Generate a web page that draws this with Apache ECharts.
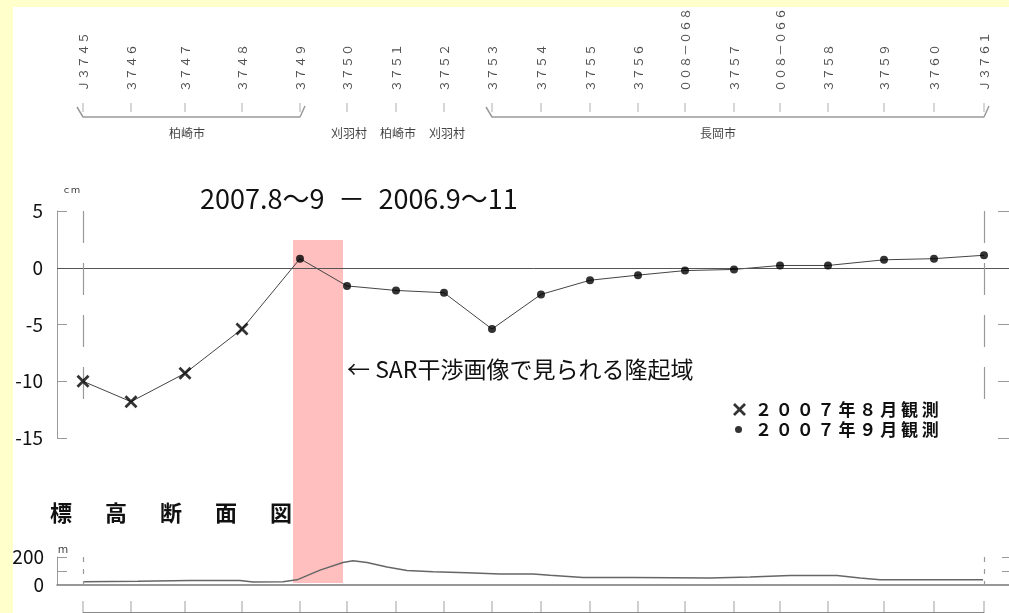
<!DOCTYPE html>
<html><head><meta charset="utf-8">
<script src="https://cdn.jsdelivr.net/npm/echarts@6/dist/echarts.min.js"></script>
<style>html,body{margin:0;padding:0;background:#ffffcc}#c{width:1009px;height:613px}</style>
</head><body><div id="c"></div>
<script>
// ---- data ----
const stations = ['Ｊ３７４５','３７４６','３７４７','３７４８','３７４９','３７５０','３７５１','３７５２','３７５３','３７５４','３７５５','３７５６','００８－０６８','３７５７','００８－０６６','３７５８','３７５９','３７６０','Ｊ３７６１'];
const distance = [0,48,102,159,217,264,313,361,409,458,507,555,602,651,697,745,801,851,901];
const displacement = [-10.0,-11.8,-9.3,-5.4,0.8,-1.6,-2.0,-2.2,-5.4,-2.35,-1.1,-0.65,-0.25,-0.15,0.2,0.2,0.7,0.8,1.1];
const augCount = 4; // first stations surveyed in Aug 2007, the rest in Sep 2007
const seriesNames = ['２００７年８月観測','２００７年９月観測'];
const elevDistance = [0,55,107,157,170,200,214,237,260,270,284,304,324,350,384,417,450,467,500,550,627,667,707,754,777,797,900];
const elevation = [24,26,32,32,22,24,37,106,161,173,161,128,104,94,87,79,79,69,54,54,50,57,67,67,50,37,37];
const regionNames = ['柏崎市','刈羽村','柏崎市','刈羽村','長岡市'];
const regionDistance = [104,266,315,364,635];
const regionSpans = [[0,4],[8,18]];
const upliftZone = [210,260];
const titleText = '2007.8～9\u2002－\u20022006.9～11';
const noteText = '← SAR干渉画像で見られる隆起域';
const profileTitle = '標\u3000\u2002高\u3000\u2002断\u3000\u2002面\u3000\u2002図';

// ---- chart ----
const FONT = "'Noto Sans CJK JP', 'Noto Sans', sans-serif";
const X0 = -26, X1 = 929;
const cross = 'path://M0,1.5L1.5,0L5,3.5L8.5,0L10,1.5L6.5,5L10,8.5L8.5,10L5,6.5L1.5,10L0,8.5L3.5,5Z';
const gridBase = {left:57, right:-3, outerBoundsMode:'none', containLabel:false};
function xa(g, extra){ return Object.assign({type:'value', gridIndex:g, min:X0, max:X1, show:false, splitLine:{show:false}}, extra||{}); }
function ya(g, extra){ return Object.assign({type:'value', gridIndex:g, splitLine:{show:false}}, extra||{}); }
const dashed = {color:'#999', width:1.2, type:[32,20]};
const dashedShort = {color:'#999', width:1.2, type:[5,7]};
const last = distance[distance.length-1];

const bracketSeries = regionSpans.map(([a,b]) => ({
  type:'line', xAxisIndex:2, yAxisIndex:4, symbol:'none', silent:true, z:3,
  lineStyle:{color:'#999', width:1.5},
  data:[[distance[a]-6,33],[distance[a],23],[distance[b],23],[distance[b]+5,34]]
}));

const option = {
  backgroundColor:'#ffffcc',
  animation:false,
  textStyle:{fontFamily:FONT},
  graphic:[{type:'rect', left:13, top:7, z:-10, shape:{width:1000, height:610}, style:{fill:'#ffffff'}}],
  title:[
    {text:titleText, left:200, top:185, padding:0, textStyle:{fontSize:27, fontWeight:'normal', color:'#111', fontFamily:FONT}},
    {text:noteText, left:347, top:358, padding:0, textStyle:{fontSize:23, fontWeight:'normal', color:'#111', fontFamily:FONT}},
    {text:profileTitle, left:50, top:502, padding:0, textStyle:{fontSize:22, fontWeight:'bold', color:'#111', fontFamily:FONT}}
  ],
  legend:[
    {data:[seriesNames[0]], left:733, top:401, padding:0, itemWidth:13, itemHeight:13, selectedMode:false,
     formatter:n=>n.split('').join(' '),
     textStyle:{fontSize:17, lineHeight:17, fontWeight:'bold', color:'#111', padding:[0,0,0,4], fontFamily:FONT}},
    {data:[seriesNames[1]], left:735, top:421, padding:0, itemWidth:7, itemHeight:7, selectedMode:false,
     formatter:n=>n.split('').join(' '),
     textStyle:{fontSize:17, lineHeight:17, fontWeight:'bold', color:'#111', padding:[0,0,0,8], fontFamily:FONT}}
  ],
  grid:[
    Object.assign({top:211, height:227}, gridBase),
    Object.assign({top:557, height:28}, gridBase),
    Object.assign({top:100, height:40}, gridBase),
    Object.assign({top:601, height:12}, gridBase),
    Object.assign({top:240, height:343}, gridBase)
  ],
  xAxis:[
    xa(0),
    xa(1, {show:true, axisLine:{show:true, onZero:false, lineStyle:{color:'#777', width:1.5}}, axisTick:{show:false}, axisLabel:{show:false}}),
    xa(2), xa(3), xa(4)
  ],
  yAxis:[
    ya(0, {min:-15, max:5, interval:5,
      axisLine:{show:true, onZero:false, lineStyle:{color:'#999'}},
      axisTick:{show:true, inside:true, length:10, lineStyle:{color:'#999'}},
      axisLabel:{margin:14, fontSize:19, color:'#111', fontFamily:FONT},
      name:'ｃｍ', nameLocation:'end', nameGap:17,
      nameTextStyle:{fontSize:9, align:'left', padding:[0,0,0,5], color:'#333', fontFamily:FONT}}),
    ya(0, {position:'right', min:-15, max:5, interval:5,
      axisLine:{show:false, onZero:false}, axisTick:{show:true, inside:true, length:14, lineStyle:{color:'#999'}}, axisLabel:{show:false}}),
    ya(1, {min:0, max:200, interval:100,
      axisLine:{show:true, onZero:false, lineStyle:{color:'#999'}},
      axisTick:{show:true, inside:true, length:10, lineStyle:{color:'#999'}},
      axisLabel:{margin:13, fontSize:19, color:'#111', fontFamily:FONT, formatter:v=> v===100 ? '' : String(v)},
      name:'ｍ', nameLocation:'end', nameGap:3,
      nameTextStyle:{fontSize:10, align:'left', padding:[0,0,0,1], color:'#333', fontFamily:FONT}}),
    ya(1, {position:'right', min:0, max:200, interval:100,
      axisLine:{show:false, onZero:false}, axisTick:{show:true, inside:true, length:10, lineStyle:{color:'#999'}}, axisLabel:{show:false}}),
    ya(2, {min:0, max:40, show:false}),
    ya(3, {min:0, max:12, show:false}),
    ya(4, {min:0, max:1, show:false})
  ],
  series:[
    // uplift zone band
    {type:'line', xAxisIndex:4, yAxisIndex:6, symbol:'none', silent:true, z:0,
     lineStyle:{opacity:0}, data:[[upliftZone[0],0],[upliftZone[1],1]],
     markArea:{silent:true, itemStyle:{color:'#ffbfbf'},
       data:[[{coord:[upliftZone[0],0]},{coord:[upliftZone[1],1]}]]}},
    // displacement line
    {type:'line', xAxisIndex:0, yAxisIndex:0, symbol:'none', silent:true, z:3,
     lineStyle:{color:'#444', width:1},
     data:distance.map((d,i)=>[d, displacement[i]]),
     markLine:{silent:true, symbol:'none', label:{show:false}, lineStyle:dashed,
       data:[
         {yAxis:0, lineStyle:{color:'#555', width:1, type:'solid'}},
         [{coord:[distance[0],5], lineStyle:dashed},{coord:[distance[0],-12.6], lineStyle:dashed}],
         [{coord:[last,5], lineStyle:dashed},{coord:[last,-12.6], lineStyle:dashed}]
       ]}},
    {name:seriesNames[0], type:'scatter', xAxisIndex:0, yAxisIndex:0, symbol:cross, symbolSize:13, z:5,
     itemStyle:{color:'#000'}, data:distance.slice(0,augCount).map((d,i)=>[d, displacement[i]])},
    {name:seriesNames[1], type:'scatter', xAxisIndex:0, yAxisIndex:0, symbol:'circle', symbolSize:8, z:5,
     itemStyle:{color:'#000'}, data:distance.slice(augCount).map((d,i)=>[d, displacement[i+augCount]])},
    // elevation profile
    {type:'line', xAxisIndex:1, yAxisIndex:2, symbol:'none', silent:true, z:3,
     lineStyle:{color:'#666', width:1.5},
     data:elevDistance.map((d,i)=>[d, elevation[i]]),
     markLine:{silent:true, symbol:'none', label:{show:false}, lineStyle:dashedShort,
       data:[
         [{coord:[distance[0],200], lineStyle:dashedShort},{coord:[distance[0],0], lineStyle:dashedShort}],
         [{coord:[last,200], lineStyle:dashedShort},{coord:[last,0], lineStyle:dashedShort}]
       ]}},
    // station ticks + names (top)
    {type:'scatter', xAxisIndex:2, yAxisIndex:4, symbol:'rect', symbolSize:[1,9], silent:true, clip:false, z:3,
     itemStyle:{color:'#999'},
     data:distance.map((d,i)=>({name:stations[i], value:[d,32.5]})),
     label:{show:true, formatter:'{b}', position:'top', distance:11, rotate:90, align:'left', verticalAlign:'middle',
       fontSize:12, color:'#222', fontFamily:FONT}},
    ...bracketSeries,
    // municipality names
    {type:'scatter', xAxisIndex:2, yAxisIndex:4, symbolSize:0, silent:true, clip:false, z:3,
     data:regionDistance.map((d,i)=>({name:regionNames[i], value:[d,7]})),
     label:{show:true, formatter:'{b}', position:'inside', fontSize:12, color:'#111', fontFamily:FONT}},
    // station ticks (bottom)
    {type:'scatter', xAxisIndex:3, yAxisIndex:5, symbol:'rect', symbolSize:[1,12], silent:true, clip:false, z:3,
     itemStyle:{color:'#888'}, data:distance.map(d=>[d,6])},
    {type:'line', xAxisIndex:3, yAxisIndex:5, symbol:'none', silent:true, z:3,
     lineStyle:{color:'#888', width:1}, data:[[distance[0],0.5],[last,0.5]]}
  ]
};
const chart = echarts.init(document.getElementById('c'), null, {renderer:'canvas'});
chart.setOption(option);
</script></body></html>
